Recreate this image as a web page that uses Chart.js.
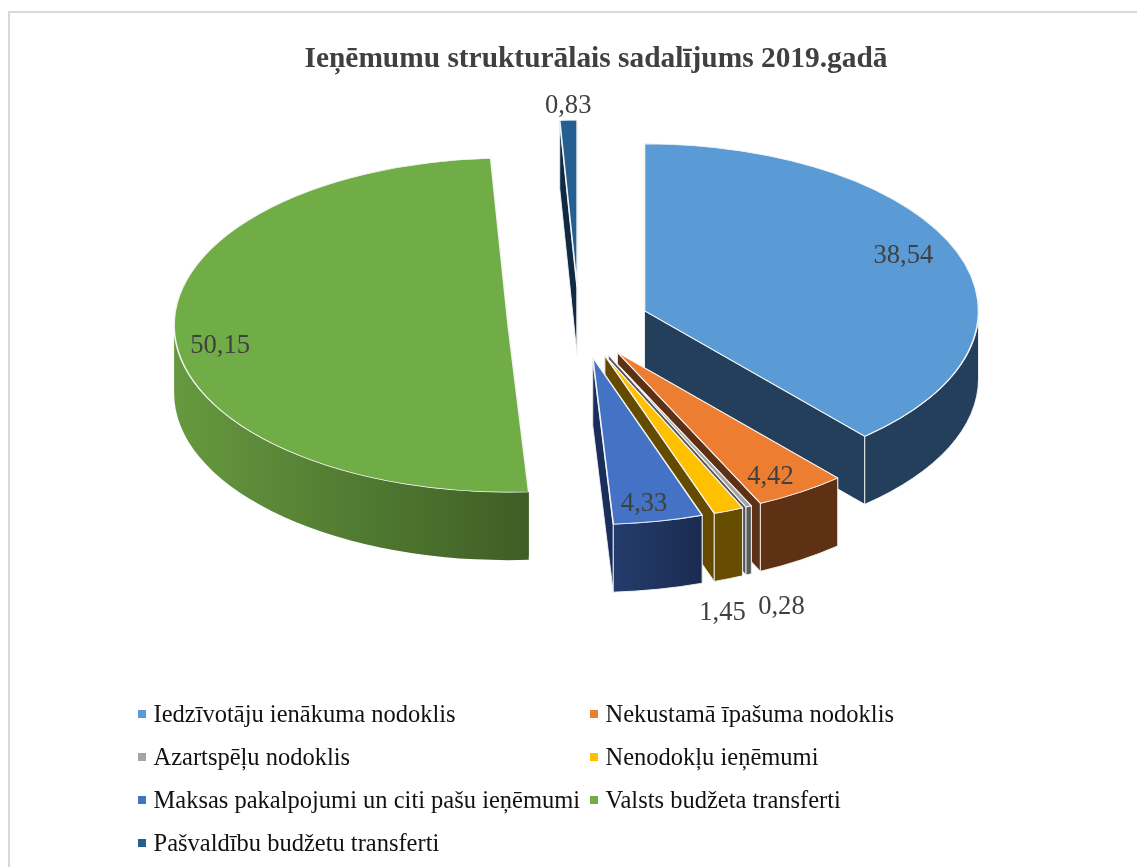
<!DOCTYPE html>
<html lang="lv">
<head>
<meta charset="utf-8">
<title>Ieņēmumu strukturālais sadalījums 2019.gadā</title>
<script src="https://cdn.jsdelivr.net/npm/chart.js@4"></script>
<style>
  html, body { margin: 0; padding: 0; background: #fff; overflow: hidden; }
  #wrap { position: relative; width: 1137px; height: 867px; overflow: hidden; }
  #frame { position: absolute; left: 8px; top: 11px; right: -10px; bottom: -10px; border: 2px solid #d9d9d9; box-sizing: border-box; }
  canvas { position: absolute; left: 0; top: 0; }
  #legend { position: absolute; left: 0; top: 0; font-family: "Liberation Serif", serif; font-size: 24.5px; color: #111; }
  .item { position: absolute; white-space: nowrap; line-height: 26px; height: 26px; }
  .mark { position: absolute; left: -15.5px; top: 9px; width: 8px; height: 8px; }
</style>
</head>
<body>
<div id="wrap">
  <div id="frame"></div>
  <canvas id="c" width="1137" height="867"></canvas>
  <div id="legend"></div>
</div>
<script>
const chartTitle = 'Ieņēmumu strukturālais sadalījums 2019.gadā';
const categories = [
  'Iedzīvotāju ienākuma nodoklis',
  'Nekustamā īpašuma nodoklis',
  'Azartspēļu nodoklis',
  'Nenodokļu ieņēmumi',
  'Maksas pakalpojumi un citi pašu ieņēmumi',
  'Valsts budžeta transferti',
  'Pašvaldību budžetu transferti'
];
const shares = [38.54, 4.42, 0.28, 1.45, 4.33, 50.15, 0.83];
const shareLabels = ['38,54', '4,42', '0,28', '1,45', '4,33', '50,15', '0,83'];

const topColors = ['#5B9BD5', '#ED7D31', '#A5A5A5', '#FFC000', '#4472C4', '#70AD47', '#255E91'];
const wallLeft  = ['#243F5C', '#5F3114', '#5A5A5A', '#664D00', '#243C6C', '#66993F', '#16344F'];
const wallRight = ['#243F5C', '#5F3114', '#5A5A5A', '#664D00', '#1A2B50', '#3E5E25', '#16344F'];
const cutColors = ['#243F5C', '#5F3114', '#555555', '#654B00', '#1A2E5C', '#3E5E25', '#0F2A42'];

// Geometry of the tilted, exploded pie
const tilt = 0.5;
const depth = 68;
const radius = 334;
const explode = [70, 70, 70, 70, 70, 71, 72];
const labelRadius = [0.85, 0.862, 1.58, 1.563, 0.875, 0.869, 1.1];
const labelTurn = [-3.6, 1.2, 5.7, 8.7, 1.2, -3.9, 0.1];
const labelDrop = 3;

const pie3d = {
  id: 'pie3d',
  afterLayout(chart) {
    // centre the title over the pie's visual block rather than the pie's axis
    chart.titleBlock.right += 34;
  },
  beforeDatasetsDraw(chart) {
    const ctx = chart.ctx;
    const meta = chart.getDatasetMeta(0);
    const ca = chart.chartArea;
    const cx0 = (ca.left + ca.right) / 2, cy0 = (ca.top + ca.bottom) / 2;
    this.cy0 = cy0;
    meta.data.forEach((arc, i) => {
      const mid = (arc.startAngle + arc.endAngle) / 2;
      arc.x = cx0 + Math.cos(mid) * explode[i];
      arc.y = cy0 + Math.sin(mid) * explode[i];
    });
    meta.data.forEach((arc, i) => {
      const R = arc.outerRadius, s = arc.startAngle, e = arc.endAngle;
      const ax = arc.x, ay = cy0 + (arc.y - cy0) * tilt;
      const px = a => ax + Math.cos(a) * R, py = a => ay + Math.sin(a) * R * tilt;
      ctx.save();
      ctx.lineWidth = 1;
      ctx.lineJoin = 'round';
      ctx.strokeStyle = 'rgba(245,245,245,0.9)';
      // cut faces
      [s, e].forEach(a => {
        ctx.beginPath();
        ctx.moveTo(ax, ay);
        ctx.lineTo(px(a), py(a));
        ctx.lineTo(px(a), py(a) + depth);
        ctx.lineTo(ax, ay + depth);
        ctx.closePath();
        ctx.fillStyle = cutColors[i];
        ctx.fill();
        if (i !== 5) ctx.stroke();
      });
      // outer rim, lower half of the ellipse only
      const a1 = Math.max(s, 0), a2 = Math.min(e, Math.PI);
      if (a1 < a2) {
        const g = ctx.createLinearGradient(px(a2), 0, px(a1), 0);
        g.addColorStop(0, wallLeft[i]);
        g.addColorStop(1, wallRight[i]);
        ctx.beginPath();
        ctx.ellipse(ax, ay, R, R * tilt, 0, a1, a2);
        ctx.ellipse(ax, ay + depth, R, R * tilt, 0, a2, a1, true);
        ctx.closePath();
        ctx.fillStyle = g;
        ctx.fill();
        if (i !== 5) ctx.stroke();
      }
      ctx.restore();
    });
    ctx.save();
    ctx.translate(0, cy0);
    ctx.scale(1, tilt);
    ctx.translate(0, -cy0);
  },
  afterDatasetsDraw(chart) {
    const ctx = chart.ctx;
    ctx.restore();
    const meta = chart.getDatasetMeta(0);
    const cy0 = this.cy0;
    ctx.save();
    ctx.font = '26.6px "Liberation Serif", serif';
    ctx.fillStyle = '#404040';
    ctx.textAlign = 'center';
    ctx.textBaseline = 'middle';
    meta.data.forEach((arc, i) => {
      const mid = (arc.startAngle + arc.endAngle) / 2 + labelTurn[i] * Math.PI / 180;
      const r = arc.outerRadius * labelRadius[i];
      const ax = arc.x, ay = cy0 + (arc.y - cy0) * tilt;
      ctx.fillText(shareLabels[i], ax + Math.cos(mid) * r, ay + Math.sin(mid) * r * tilt + labelDrop);
    });
    ctx.restore();
  }
};

new Chart(document.getElementById('c'), {
  type: 'pie',
  data: {
    labels: categories,
    datasets: [{
      data: shares,
      backgroundColor: topColors,
      borderColor: '#f4f4f4',
      borderWidth: 1.6
    }]
  },
  options: {
    responsive: false,
    animation: false,
    events: [],
    radius: radius,
    layout: { padding: { left: 22, right: 1, top: 0, bottom: 298 } },
    plugins: {
      legend: { display: false },
      tooltip: { enabled: false },
      title: {
        display: true,
        text: chartTitle,
        color: '#404040',
        font: { family: '"Liberation Serif", serif', size: 29.4, weight: 'bold', lineHeight: 1.2 },
        padding: { top: 42, bottom: 0 }
      }
    }
  },
  plugins: [pie3d]
});

// HTML legend, two columns, row by row
const legendEl = document.getElementById('legend');
const colX = [153.5, 605.5];
const rowY = [701, 744, 787, 830];
categories.forEach((name, i) => {
  const it = document.createElement('div');
  it.className = 'item';
  it.style.left = colX[i % 2] + 'px';
  it.style.top = rowY[Math.floor(i / 2)] + 'px';
  const m = document.createElement('span');
  m.className = 'mark';
  m.style.background = topColors[i];
  it.appendChild(m);
  it.appendChild(document.createTextNode(name));
  legendEl.appendChild(it);
});
</script>
</body>
</html>
